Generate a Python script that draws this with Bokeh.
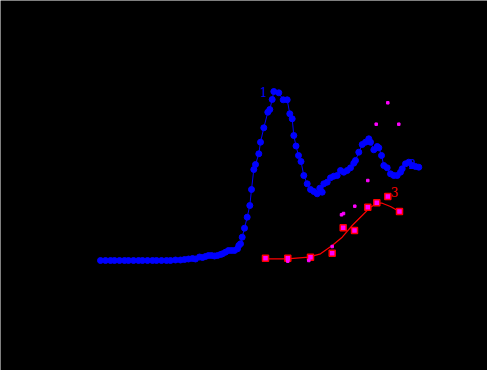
import re
from bokeh.plotting import figure
from bokeh.models import Range1d
from bokeh.embed import file_html
from bokeh.resources import INLINE
from bokeh.core.properties import value

# Spectrum 1 (blue)
blue_x = [100, 105, 110, 114, 119, 124, 128, 133, 138, 142, 147, 152, 156, 161, 166, 170,
          175, 180, 184, 188, 192, 195, 199, 202, 205, 208, 211, 214, 217, 220, 222, 225,
          228, 231, 234, 237, 238.3, 240, 241.7, 244, 246.7, 249.3, 251, 253.3, 255, 258.3,
          260, 263.3, 267.3, 269.3, 271.7, 273.3, 278.3, 282.7, 286.7, 289.3, 291.7, 293.3,
          295.5, 298, 300.5, 303.3, 306.7, 310, 313.3, 316.7, 319.3, 321.7, 323.3, 326.7,
          330, 333.3, 336.7, 340, 343.3, 346.7, 350, 353.3, 355, 358.3, 361.7, 365, 368.3,
          370, 373.3, 376.7, 378.3, 381, 383.3, 386.7, 390, 393.3, 396.7, 400, 401.7, 405,
          408.3, 411.7, 415, 418.3]
blue_y = [110, 110, 110, 110, 110, 110, 110, 110, 110, 110, 110, 110, 110, 110, 110, 110,
          110.5, 110.5, 111, 111.5, 112, 111.5, 113.5, 113, 114, 115, 115, 114.5, 115, 116, 116.7, 118.3,
          120, 120, 120, 121.7, 125, 126.7, 133.3, 142.3, 153.3, 165, 181, 201, 206, 216.7,
          228.3, 242.7, 258.3, 261, 271, 279, 277.7, 270.7, 270.7, 256.7, 251.7, 235,
          224.5, 215, 209, 195, 186.7, 181, 179, 176.7, 182.3, 178.3, 186.7, 188.3,
          192.7, 194.3, 195, 200, 198.3, 200, 202.7, 207.3, 210, 218.3, 226, 228.3, 231.7,
          228.3, 220.7, 224, 222.7, 215, 205, 202.7, 196.7, 195, 195, 198.3, 201.7, 206.7,
          208.3, 205, 204, 203.3]

# Curve 3 (red line) and its points
red_x = [264.3, 286.7, 308.3, 320, 331.7, 341.7, 351.7, 361.7, 370, 376.7, 381.7, 390, 398.3]
red_y = [111.7, 111.7, 113.3, 116.7, 125, 133.3, 145, 155, 163.3, 167.3, 167.3, 164, 159.3]
sq_x = [265, 287.3, 310, 331.7, 342.7, 354, 367.3, 376.3, 387.3, 399]
sq_y = [112.3, 112.3, 113.3, 117.3, 142.7, 140, 163.3, 167.7, 174, 159]

# small magenta points
mg_x = [387.3, 375.7, 398.3, 367.3, 354.3, 341, 343, 331.7, 308.3, 287.3]
mg_y = [267.7, 246.3, 246.3, 190, 164.3, 155.7, 157, 124, 110, 109.3]

labels = ["1", "2", "3"]
label_x = [263, 412, 394]
label_y = [279, 207, 179]
label_colors = ["#0000ff", "#0000ff", "#ff0000"]

p = figure(width=487, height=370, output_backend="svg", toolbar_location=None,
           x_range=Range1d(0, 487), y_range=Range1d(0, 370), min_border=0,
           background_fill_color="black", border_fill_color="black", outline_line_color=None)
p.axis.visible = False
p.grid.visible = False

p.line(blue_x, blue_y, line_color="#0000ff", line_width=1)
p.scatter(blue_x, blue_y, marker="circle", size=6, fill_color="#0000ff", line_color="#0000ff")

p.line(red_x, red_y, line_color="#ff0000", line_width=1.2)
p.scatter(sq_x, sq_y, marker="square", size=6, fill_color="#ff00ff", line_color="#ff0000", line_width=1.5)
p.scatter(mg_x, mg_y, marker="square", size=2.5, fill_color="#ff00ff", line_color="#ff00ff")

p.text(label_x, label_y, text=labels, text_color=label_colors, text_font=value("DejaVu Serif"),
       text_font_size="12px", text_align="center", text_baseline="middle")

html = file_html(p, INLINE)
html = re.sub(r"<body[^>]*>", '<body style="margin:0;padding:0;overflow:hidden;background:#000;">', html, count=1)
open("out.html", "w").write(html)
